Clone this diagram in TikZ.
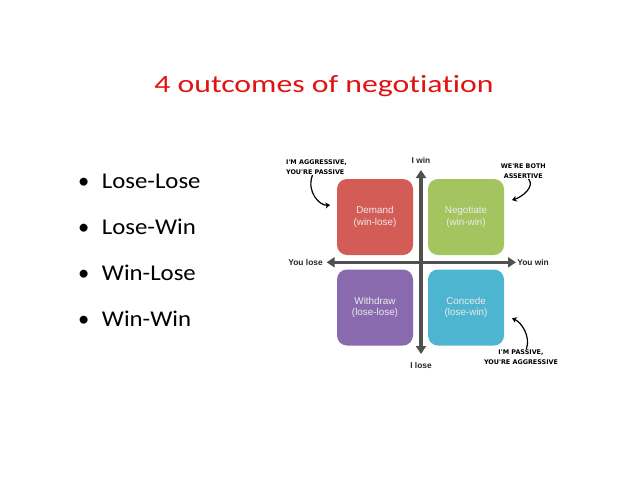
\documentclass[tikz,border=0pt]{standalone}
\usepackage{fontspec}
\setmainfont{Carlito}[Ligatures=NoCommon]
\newfontfamily\boxfont{Liberation Sans}
\newfontfamily\handfont{DejaVu Sans}
\usepackage{xcolor}
\usetikzlibrary{arrows.meta, positioning}
\definecolor{titlered}{RGB}{226,18,18}
\definecolor{demandred}{RGB}{212,92,86}
\definecolor{negogreen}{RGB}{163,196,94}
\definecolor{withpurple}{RGB}{138,106,174}
\definecolor{concblue}{RGB}{77,181,208}
\definecolor{axisgray}{RGB}{80,80,80}

\begin{document}
\begin{tikzpicture}[x=0.75pt, y=-0.75pt,
    quad/.style={rectangle, rounded corners=7.5pt, minimum width=57pt, minimum height=57pt, inner sep=0pt, align=center, text=white!92!black, font=\boxfont\fontsize{7.4}{8.8}\selectfont},
    axis/.style={draw=axisgray, line width=2.3pt, {Triangle[width=7.5pt,length=6pt]}-{Triangle[width=7.5pt,length=6pt]}},
    axlabel/.style={font=\boxfont\bfseries\fontsize{6.3}{7}\selectfont, text=black!85, inner sep=0pt},
    note/.style={font=\handfont\bfseries\fontsize{4.8}{8}\selectfont, inner sep=0pt},
    curl/.style={line width=0.9pt, -{Stealth[width=4.5pt,length=3.5pt]}}
]
\useasboundingbox (0,0) rectangle (638,493);

\node[anchor=base, text=titlered, font=\fontsize{18.6}{22}\selectfont] (title) at (324,92) {\scalebox{1.28}[1]{4 outcomes of negotiation}};

\foreach \t [count=\i] in {Lose-Lose, Lose-Win, Win-Lose, Win-Win}
    \node[anchor=base west, inner sep=0pt, font=\fontsize{16.9}{20}\selectfont] (item\i) at (101.7,{188+(\i-1)*46.3}) {\llap{\textbullet\hspace{9.5pt}}\scalebox{1.1}[1]{\t}};

\node[quad, fill=demandred] (demand) at (375,217) {Demand\\(win-lose)};
\node[quad, fill=negogreen] (negotiate) at (466,217) {Negotiate\\(win-win)};
\node[quad, fill=withpurple] (withdraw) at (375,307.5) {Withdraw\\(lose-lose)};
\node[quad, fill=concblue] (concede) at (466,307.5) {Concede\\(lose-win)};

\coordinate (n) at (421,170);
\coordinate (s) at (421,354);
\coordinate (w) at (326.7,262.3);
\coordinate (e) at (516,262.3);
\draw[axis] (w) -- (e);
\draw[axis] (n) -- (s);

\node[axlabel] (iwin) at (421,160) {I win};
\node[axlabel] (ilose) at (421,365.5) {I lose};
\node[axlabel, anchor=east] (youlose) at (323,262.3) {You lose};
\node[axlabel, anchor=west] (youwin) at (517,262.3) {You win};

\node[note, align=left] (aggressive) at (316.5,167) {I'M AGGRESSIVE,\\YOU'RE PASSIVE};
\node[note, align=center] (both) at (523.3,171) {WE'RE BOTH\\ASSERTIVE};
\node[note, align=center] (passive) at (521,357.2) {I'M PASSIVE,\\YOU'RE AGGRESSIVE};

\draw[curl] ([xshift=-3pt]aggressive.south) .. controls (306,192) and (320,206) .. ([shift={(-5pt,9pt)}]demand.west);
\draw[curl] ([xshift=4pt]both.south) .. controls (535,187) and (522,197) .. ([shift={(5.8pt,12.7pt)}]negotiate.east);
\draw[curl] ([xshift=4pt]passive.north) .. controls (531,336) and (521,322) .. ([shift={(5.8pt,-8.1pt)}]concede.east);
\end{tikzpicture}
\end{document}
